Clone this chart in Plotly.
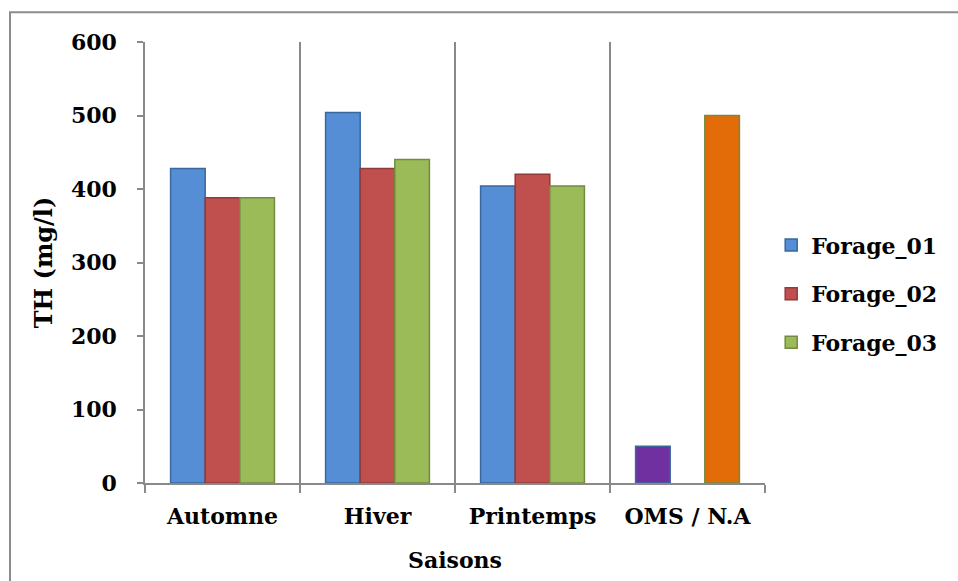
import plotly.graph_objects as go

categories = ["Automne", "Hiver", "Printemps", "OMS / N.A"]
series_names = ["Forage_01", "Forage_02", "Forage_03"]
forage_01 = [428, 504, 404, 50]
forage_02 = [388, 428, 420, None]
forage_03 = [388, 440, 404, 500]
y_ticks = [0, 100, 200, 300, 400, 500, 600]

fill_colors = ["#558ED5", "#C0504D", "#9BBB59"]
line_colors = ["#3A679E", "#8E3B39", "#728B40"]
# point overrides for the OMS / N.A reference group
oms_fill = {0: "#7030A0", 2: "#E36C09"}

FONT = "DejaVu Serif"
W, H = 958, 581
L, R, T, B = 145, 193, 42, 96

fig = go.Figure()
for i, (name, vals) in enumerate(zip(series_names, [forage_01, forage_02, forage_03])):
    colors = [fill_colors[i]] * len(categories)
    if i in oms_fill:
        colors[-1] = oms_fill[i]
    fig.add_trace(go.Bar(
        name=name, x=categories, y=vals,
        marker=dict(color=colors, line=dict(color=line_colors[i], width=1.5)),
        legendgroup=name,
    ))

fig.update_layout(
    width=W, height=H,
    margin=dict(l=L, r=R, t=T, b=B),
    paper_bgcolor="white", plot_bgcolor="white",
    barmode="group", bargap=0.33, bargroupgap=0,
    font=dict(family=FONT, size=22, color="black"),
    showlegend=True,
    legend=dict(
        x=1.01, y=0.429, xanchor="left", yanchor="middle",
        font=dict(family=FONT, size=22, color="black", weight="bold"),
        tracegroupgap=17, itemwidth=30,
        bgcolor="rgba(0,0,0,0)",
    ),
    xaxis=dict(
        type="category", tickson="boundaries",
        showgrid=True, gridcolor="#898989", gridwidth=1.5,
        showline=True, linecolor="#898989", linewidth=1.5,
        ticks="outside", ticklen=8, tickcolor="#898989", tickwidth=1.5,
        tickfont=dict(family=FONT, size=22, weight="bold"),
        ticklabelstandoff=13,
        title=dict(text="<b>Saisons</b>", font=dict(family=FONT, size=22), standoff=24),
        range=[-0.5, 3.5],
    ),
    yaxis=dict(
        range=[0, 600], tickvals=y_ticks,
        showgrid=False, zeroline=False,
        showline=True, linecolor="#898989", linewidth=1.5,
        ticks="outside", ticklen=6, tickcolor="#898989", tickwidth=1.5,
        tickfont=dict(family=FONT, size=22, weight="bold"),
        ticklabelstandoff=16,
        title=dict(text="<b>TH (mg/l)</b>", font=dict(family=FONT, size=24), standoff=12),
    ),
)

pw = W - L - R
ph = H - T - B
fig.add_shape(
    type="rect", xref="paper", yref="paper",
    x0=(10 - L) / pw, x1=(975 - L) / pw,
    y0=-1.0, y1=(ph + T - 12) / ph,
    line=dict(color="#8C8C8C", width=2), fillcolor="rgba(0,0,0,0)", layer="below",
)

fig.write_html("out.html")
